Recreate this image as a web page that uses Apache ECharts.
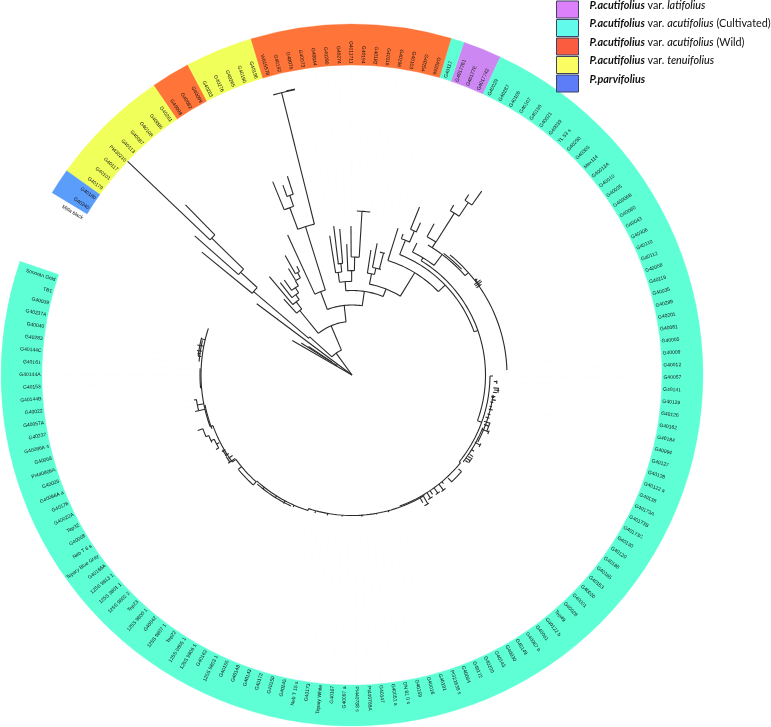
<!DOCTYPE html>
<html><head><meta charset="utf-8">
<style>html,body{margin:0;padding:0;background:#fff}#c{width:771px;height:727px}</style>
<script src="https://cdn.jsdelivr.net/npm/echarts@6/dist/echarts.min.js"></script>
</head><body><div id="c"></div>
<script>
// clade names
const nameLati='P.acutifolius var. latifolius';
const nameCult='P.acutifolius var. acutifolius (Cultivated)';
const nameWild='P.acutifolius var. acutifolius (Wild)';
const nameTenu='P.acutifolius var. tenuifolius';
const namePar='P.parvifolius';
const legendNames=[nameLati,nameCult,nameWild,nameTenu,namePar];

// tip labels, clockwise, one list per coloured band
const tipsOutgroup=['Mitla black'];
const tipsParvi=['G40240','G40180'];
const tipsTenu1=['G40179','G40101','G40117','PI430210','G40113','G40087','G40108','G40095','G40261'];
const tipsWild1=['G40098','G40082','G40099'];
const tipsTenu2=['G40283','G40276','G40265','G40190','G40196'];
const tipsWild2=['W615578','G40192','G40076','G40073','G40044','G40290','G40274','G4011711','G40194','G40182','G40116','G40296','G40103','G40254','G40266'];
const tipsCult1=['G40117'];
const tipsLati=['G4017761','G40177E','G4017742'];
const tipsCult2=['G40029','G40287','G40106','G40107','G40196','G40021','G40039','TL 53 s','G40290','G40303','Mex114','G40013A','G40010','G40035','G40006B','G40060','G40043','G40306','G40110','G40112','G40058','G40119','G40035','G40289','G40201','G40081','G40005','G40009','G40012','G40057','G40141','G40129','G40126','G40162','G40184','G40094','G40127','G40128','G40122 a','G40138','G40173A','G40173B','G40173C','G40130','G40120','G40186','G40165','G40163','G40020','G40001','G40026','Tep49','G40122 b','G40061','G40067 b','G40149','G40030','G40143','G40200','G40172','G40064','PI321638 s','G40191','G40016','G40159','DN 81 0 s','G40051 a','G40147','PI440788A','PI440788 s','G40097 a','G40167','Tepary White','G40173','Neb T 15 s','G40145','G40150','G40172','G40143','G40148','G40155','125S 9803 1','G40162','125S 9806 1','125S 9805 1','Tep22','125S 9807 1','G40042','125S 9800 1','Tep23','125S 9802 2','125S 9801 1','125S 9813 1','G40166A','Tepary Blue Gray','Neb T 6 s','G40008','Tep32','G40022A','G40176','G40086A a','G40026','PI440806A','G40068','G40086A s','G40237','G40057A','G40022','G40144B','G40153','G40144A','G40161','G40144C','G40283','G40040','G40237A','G40039','TB1','Sonoran Gold'];

// band edges in degrees clockwise from 12 o'clock
const edgesOutgroup=[-61,-58.7];
const edgesParvi=[-58.7,-54.4];
const edgesTenu1=[-54.4,-34.4];
const edgesWild1=[-34.4,-27.9];
const edgesTenu2=[-27.9,-16.8];
const edgesWild2=[-16.8,16.4];
const edgesCult1=[16.4,18.6];
const edgesLati=[18.6,25];
const edgesCult2=[25,288.9];

// tree: radial branches [angle, r0, r1]
const radialsFan=[[-60,0,69],[-57.8,18,60],[-56.8,24,52],[-53.2,0,119],[-36,0,27],[-48,27,57],[-49.7,57,129],[-50.7,129,194],[-47.3,129,151],[-48.5,151.5,210],[-45.7,151.5,196],[-46.4,196,312],[-44.4,196,238]];
const radialsUpper=[[-23,27,53.5],[-39,53.5,83],[-41.9,83,102],[-37.3,83,92],[-40,92,128.5],[-35,92,98],[-37.8,98,117],[-33,98,104],[-35.5,104,116.7],[-31,104,110],[-30.8,110,124],[-28,110,116],[-29.2,116,137],[-26.9,116,122],
[-6.4,53.5,70],[-20.6,70,89],[-24.7,89,154],[-17.4,89,155.5],[-14,155.5,291],[-20.4,155.5,178.5],[-22.3,178.5,209],[-19.1,178.5,190],[-20,190,202],[-18,190,209],
[8.4,70,84.5],[-4.2,84.5,93.6],[-7.7,93.6,103.5],[-9.1,103.5,141],[-5.7,103.5,112],[-7,112,150],[-4.8,112,146.5],[-0.2,93.6,104.4],[-2.3,104.4,131],[1.3,104.4,118],[-0.4,118,149],[3.5,118,164]];
const radialsRight=[[21.6,84.5,92.5],[10.9,92.5,103],[8.6,103,126.4],[12.6,103,109.5],[10.8,109.5,134],[14.5,109.5,126],[31.5,92.5,120],[17.4,120,154],[46,120,129.5],[21.6,129.5,145],[19.9,145,150],[23.4,145,157],[21.9,157,181],[24.2,157,167],
[70.5,129.5,133.5],[31.2,133.5,137],[26.2,137,147],[36.8,137,150.5],[32.2,150.5,157.3],[28.5,157.3,172],[32.3,157.3,191.5],[30.9,191.5,198],[34,191.5,208],[32.9,208,215],[35.2,208,225],[48.7,150.5,155],[52.5,155,158],[53.5,152,160],[54.2,152,160],[55,152,158]];
const radialsRingTips=[[110,133.5,138],[90.4,138,141],[92.6,142,145],[95.2,142,147],[96,143,148],[97,142,146],[98.6,141,145],[99,141,144],[100,142,146],[101,141,144],[102.8,141,143.5],[104,141,145],[106,141,144],[107.5,140,144],[109.3,140,146],[110.5,141,146],[112.6,141,147.5],[118.7,140,146],[122,141,144],[124,142,146],[125,142,145],[126,141,146],[127,142,145],[129,138,139.5],[131.4,142,146],[137,141,146.5],[139.9,139.5,142],[141.5,139.5,147],[144,140,146],[146,140,144],[147.5,140,146],[149.5,141,149.5],[151,141,146],[165,140,142],[170,140,141.5],[176,140,142],[184,140.5,142],[190,140.5,142.5],[195,141,143],[198,140.5,142.5],
[204,142.5,144.5],[208,142.5,145.6],[212,142.5,145],[218,142.5,144.5],[221.9,143,148],[230.3,143.5,148],[234,143.5,148],[234.5,143.5,152],[236,144,149],[237.5,146,150],[239.5,147,151],[241.3,152,155],[243,149,152],[245,152,155.5],[247.1,155.5,158.5],[250,148,151],[250.2,158.5,164],[256.9,151,161],[259,151,157.5],[261,157.5,160],[277,152,155],[278,153,156],[279,152,157],[281,151,157.5],[283.5,151,155]];

// tree: arcs [radius, a0, a1]
const arcsFan=[[18,-60,-54],[27,-48,-23],[57,-50,-48],[129,-50.7,-47.3],[151.5,-48.5,-45.7],[196,-46.4,-44.4]];
const arcsUpper=[[53.5,-39,-6.4],[83,-41.9,-37.3],[92,-40,-35],[98,-37.8,-33],[104,-35.5,-31],[110,-30.8,-28],[116,-29.2,-26.9],[70,-20.6,8.8],[89,-24.7,-17.4],[155.5,-20.5,-14],[291,-15.7,-11.3],[291.6,-13,-11.3],[178.5,-22.3,-19.1],[190,-20,-18],
[84.5,-4.3,21.6],[93.6,-7.7,-0.2],[103.5,-9.1,-5.7],[112,-7.3,-4.8],[104.4,-2.6,1.3],[118,-0.4,3.5],[164,1.7,6.4]];
const arcsRight=[[92.5,10.9,31.6],[103,8.6,12.6],[109.5,10.8,15.3],[126,12.8,15.1],[120,17.4,46],[129.5,21.6,70.5],[145,19.9,23.6],[157,21.9,24.4],[137,26.2,36.8],[150.5,30.3,48.7],[152.3,37,46],[157.3,28.5,32.3],[191.5,30.9,34],[208,32.9,35.2],[155,39.2,88.2],[156,52,55]];
const arcsRing=[[133.5,31.2,110],[138,90.4,129],[141,112,128],[142.5,98,118],[139.5,129,160],[140.5,149,198],[142.5,198,222],[144.5,205,221],[143.5,222,234],[148,234,250],[151,250,288],[150,249,258.5],[152,265,272.5],
[145,92.2,93.5],[147,95,97],[146,109,112.6],[148,112,113.5],[146,118,119.5],[146,124.5,127],[146,131.4,137],[147,140.5,142.5],[146,143,145],[146,146.5,148.5],[149.5,149,151],[147.8,222,230],[150,234.5,237],[149.5,237,240],[152,241.3,245],[155.5,244.3,247.1],[158.5,247.1,250.2],[157.5,256.9,261],[155,277,284],[153.5,275,283]];

const ringInner=310, ringOuter=351, labelGap=1.5, flipFrom=180.5, flipTo=17.4;

const colorBand={[nameLati]:'#cd87f2',[nameCult]:'#5effd5',[nameWild]:'#ff7438',[nameTenu]:'#f1ff5a',[namePar]:'#5b9dfb'};
const colorSwatch={[nameLati]:'#dd80fb',[nameCult]:'#62fbeb',[nameWild]:'#fb5c40',[nameTenu]:'#fbfb62',[namePar]:'#5c7cf8'};

const bands=[
 {name:namePar,edges:edgesParvi,tips:tipsParvi},
 {name:nameTenu,edges:edgesTenu1,tips:tipsTenu1},
 {name:nameWild,edges:edgesWild1,tips:tipsWild1},
 {name:nameTenu,edges:edgesTenu2,tips:tipsTenu2},
 {name:nameWild,edges:edgesWild2,tips:tipsWild2},
 {name:nameCult,edges:edgesCult1,tips:tipsCult1},
 {name:nameLati,edges:edgesLati,tips:tipsLati},
 {name:nameCult,edges:edgesCult2,tips:tipsCult2}
];
// tips sit evenly across their band
const tips=[];
bands.concat([{edges:edgesOutgroup,tips:tipsOutgroup,single:true}]).forEach(b=>{
  const st=(b.edges[1]-b.edges[0])/b.tips.length;
  b.tips.forEach((t,i)=>tips.push({t,a:b.single?b.edges[1]-1.1:b.edges[0]+(i+.5)*st}));
});

const radials=[...radialsFan,...radialsUpper,...radialsRight,...radialsRingTips];
const arcs=[...arcsFan,...arcsUpper,...arcsRight,...arcsRing];
const segs=radials.map(v=>({kind:0,v})).concat(arcs.map(v=>({kind:1,v})));

function ringSeries(name){
  const data=bands.filter(b=>b.name===name).map(b=>b.edges);
  return {type:'custom',name,coordinateSystem:'polar',z:3,silent:true,itemStyle:{color:colorBand[name]},data,
    renderItem(p,api){
      const cs=p.coordSys,a0=api.value(0),a1=api.value(1);
      const dist=r=>{const q=api.coord([r,a0]);return Math.hypot(q[0]-cs.cx,q[1]-cs.cy)};
      return {type:'sector',shape:{cx:cs.cx,cy:cs.cy,r0:dist(ringInner),r:dist(ringOuter),
        startAngle:(a0-90)*Math.PI/180,endAngle:(a1-90)*Math.PI/180,clockwise:true},
        style:{fill:colorBand[name],stroke:colorBand[name],lineWidth:.3}};
    }};
}
const faintSeries={type:'custom',coordinateSystem:'polar',z:1,silent:true,data:tips.map(o=>[o.a,0]),
  renderItem(p,api){const a=api.value(0),q0=api.coord([160,a]),q1=api.coord([ringInner,a]);
    return {type:'line',shape:{x1:q0[0],y1:q0[1],x2:q1[0],y2:q1[1]},style:{stroke:'#f5f5f5',lineWidth:.5,lineDash:[1,2]}};}};
const treeSeries={type:'custom',coordinateSystem:'polar',z:2,silent:true,data:segs.map(s=>[s.kind,...s.v]),
  renderItem(p,api){
    const k=api.value(0),x=api.value(1),y=api.value(2),z=api.value(3);let pts;
    if(k===0)pts=[api.coord([y,x]),api.coord([z,x])];
    else{const n=Math.max(2,Math.ceil((z-y)/1.5));pts=[];for(let i=0;i<=n;i++)pts.push(api.coord([x,y+(z-y)*i/n]));}
    return {type:'polyline',shape:{points:pts},style:{stroke:'#2a2a2a',lineWidth:1.1,fill:null}};
  }};
const labelSeries={type:'custom',coordinateSystem:'polar',z:4,silent:true,data:tips.map(o=>[o.a,0]),
  renderItem(p,api){
    const a=api.value(0),q=api.coord([ringInner+labelGap,a]);
    const flip=a>=flipFrom||a<flipTo;
    const rot=(flip?270-a:90-a)*Math.PI/180;
    return {type:'text',x:q[0],y:q[1],rotation:rot,style:{text:tips[p.dataIndex].t,fill:'#151515',
      font:'5px "Liberation Sans"',align:flip?'right':'left',verticalAlign:'middle'}};
  }};

const richToken={lineHeight:9,fontSize:10.8,fontFamily:'Lato',color:'#111'};
const option={
  animation:false,backgroundColor:'#fff',
  polar:{center:[352,375],radius:351},
  angleAxis:{type:'value',min:-71,max:289,startAngle:161,clockwise:true,show:false},
  radiusAxis:{type:'value',min:0,max:351,show:false},
  legend:{left:556,top:0,padding:0,orient:'vertical',itemWidth:22,itemHeight:17,itemGap:0,selectedMode:false,icon:'rect',
    data:legendNames.map(n=>({name:n,itemStyle:{color:colorSwatch[n],borderColor:'#3d4460',borderWidth:1}})),
    formatter:n=>{
      if(n===namePar)return '{b|P.parvifolius}';
      const m=n.match(/^P\.acutifolius var\. (\w+)(.*)$/);
      return '{b|P.acutifolius}{r| var. }{i|'+m[1]+'}'+(m[2]?'{r|'+m[2]+'}':'');
    },
    textStyle:{...richToken,padding:[0,0,8,6],rich:{
      b:{...richToken,fontStyle:'italic',fontWeight:'bold'},
      i:{...richToken,fontStyle:'italic',fontWeight:500},
      r:{...richToken}
    }}},
  series:[faintSeries,treeSeries,...legendNames.map(ringSeries),labelSeries]
};
echarts.init(document.getElementById('c'),null,{renderer:'canvas'}).setOption(option);
</script></body></html>
